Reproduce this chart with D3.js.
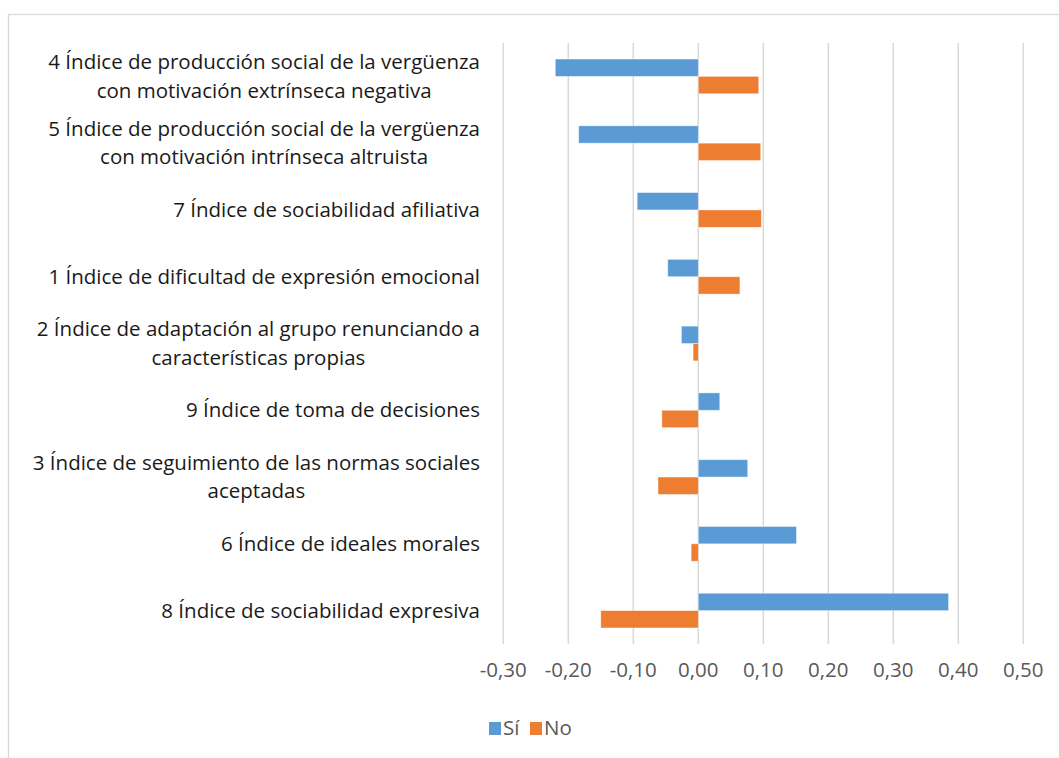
<!DOCTYPE html>
<html>
<head>
<meta charset="utf-8">
<script src="https://cdn.jsdelivr.net/npm/d3@7"></script>
<style>
  body { margin: 0; background: #fff; }
  svg { font-family: "Open Sans", sans-serif; }
</style>
</head>
<body>
<div id="chart"></div>
<script>
var width = 1059
var height = 758

// categories, top to bottom, each one a list of text lines
const categories = [
    ["4 Índice de producción social de la vergüenza", "con motivación extrínseca negativa"],
    ["5 Índice de producción social de la vergüenza", "con motivación intrínseca altruista"],
    ["7 Índice de sociabilidad afiliativa"],
    ["1 Índice de dificultad de expresión emocional"],
    ["2 Índice de adaptación al grupo renunciando a", "características propias"],
    ["9 Índice de toma de decisiones"],
    ["3 Índice de seguimiento de las normas sociales", "aceptadas"],
    ["6 Índice de ideales morales"],
    ["8 Índice de sociabilidad expresiva"]
];
const seriesNames = ["Sí", "No"];
const valuesSi = [-0.22, -0.184, -0.094, -0.047, -0.026, 0.033, 0.076, 0.151, 0.385];
const valuesNo = [0.093, 0.096, 0.097, 0.064, -0.008, -0.056, -0.062, -0.011, -0.150];
const tickValues = [-0.3, -0.2, -0.1, 0, 0.1, 0.2, 0.3, 0.4, 0.5];
const colors = ["#5b9bd5", "#ed7d31"];

const svg = d3.select("#chart")
    .append("svg")
    .attr("width", width)
    .attr("height", height);

// chart frame
svg.append("rect")
    .attr("x", 8.5).attr("y", 14.5)
    .attr("width", 1100).attr("height", 800)
    .attr("fill", "none")
    .attr("stroke", "#d9d9d9")
    .attr("stroke-width", 1.3);

const x = d3.scaleLinear().domain([-0.3, 0.5]).range([503.3, 1023.3]);
const y = d3.scaleBand().domain(d3.range(categories.length)).range([43, 644]);
const bh = y.bandwidth() * 0.26;

// vertical gridlines
svg.append("g")
    .selectAll("line")
    .data(tickValues)
    .enter()
    .append("line")
    .attr("x1", d => x(d)).attr("x2", d => x(d))
    .attr("y1", 43).attr("y2", 644)
    .attr("stroke", "#d9d9d9")
    .attr("stroke-width", 1.5);

// bars
const rows = categories.map((c, i) => ({ i: i, vals: [valuesSi[i], valuesNo[i]] }));
const grp = svg.append("g")
    .selectAll("g")
    .data(rows)
    .enter()
    .append("g");

grp.selectAll("rect")
    .data(d => d.vals.map((v, k) => ({ i: d.i, k: k, v: v })))
    .enter()
    .append("rect")
    .attr("x", d => x(Math.min(0, d.v)))
    .attr("width", d => Math.abs(x(d.v) - x(0)))
    .attr("y", d => y(d.i) + y.bandwidth() / 2 - bh + d.k * bh)
    .attr("height", bh)
    .attr("fill", d => colors[d.k])
    .attr("stroke", "#fff")
    .attr("stroke-opacity", 0.5)
    .attr("stroke-width", 0.8);

// category labels, lines centred within a right aligned block
const lineH = 28.5;
const labels = svg.append("g")
    .selectAll("text")
    .data(categories)
    .enter()
    .append("text")
    .attr("font-size", "20.5px")
    .attr("fill", "#1a1a1a")
    .attr("text-anchor", "middle");

labels.each(function(lines, i) {
    const t = d3.select(this);
    const cy = y(i) + y.bandwidth() / 2;
    lines.forEach((ln, j) => {
        t.append("tspan")
            .attr("y", cy + (j - (lines.length - 1) / 2) * lineH + 7)
            .text(ln);
    });
});
// place each block so its widest line ends at x = 480
labels.each(function() {
    const t = d3.select(this);
    let w = 0;
    t.selectAll("tspan").each(function() { w = Math.max(w, this.getComputedTextLength()); });
    t.selectAll("tspan").attr("x", 480 - w / 2);
});

// x tick labels
svg.append("g")
    .selectAll("text")
    .data(tickValues)
    .enter()
    .append("text")
    .attr("x", d => x(d))
    .attr("y", 677)
    .attr("text-anchor", "middle")
    .attr("font-size", "20.5px")
    .attr("fill", "#595959")
    .text(d => d3.format(".2f")(d).replace(".", ",").replace("−", "-"));

// legend
const legX = [489, 530];
const leg = svg.append("g")
    .selectAll("g")
    .data(seriesNames)
    .enter()
    .append("g")
    .attr("transform", (d, i) => "translate(" + legX[i] + ",722)");
leg.append("rect")
    .attr("width", 12).attr("height", 13)
    .attr("fill", (d, i) => colors[i]);
leg.append("text")
    .attr("x", 14).attr("y", 13)
    .attr("font-size", "20.5px")
    .attr("fill", "#595959")
    .text(d => d);
</script>
</body>
</html>
